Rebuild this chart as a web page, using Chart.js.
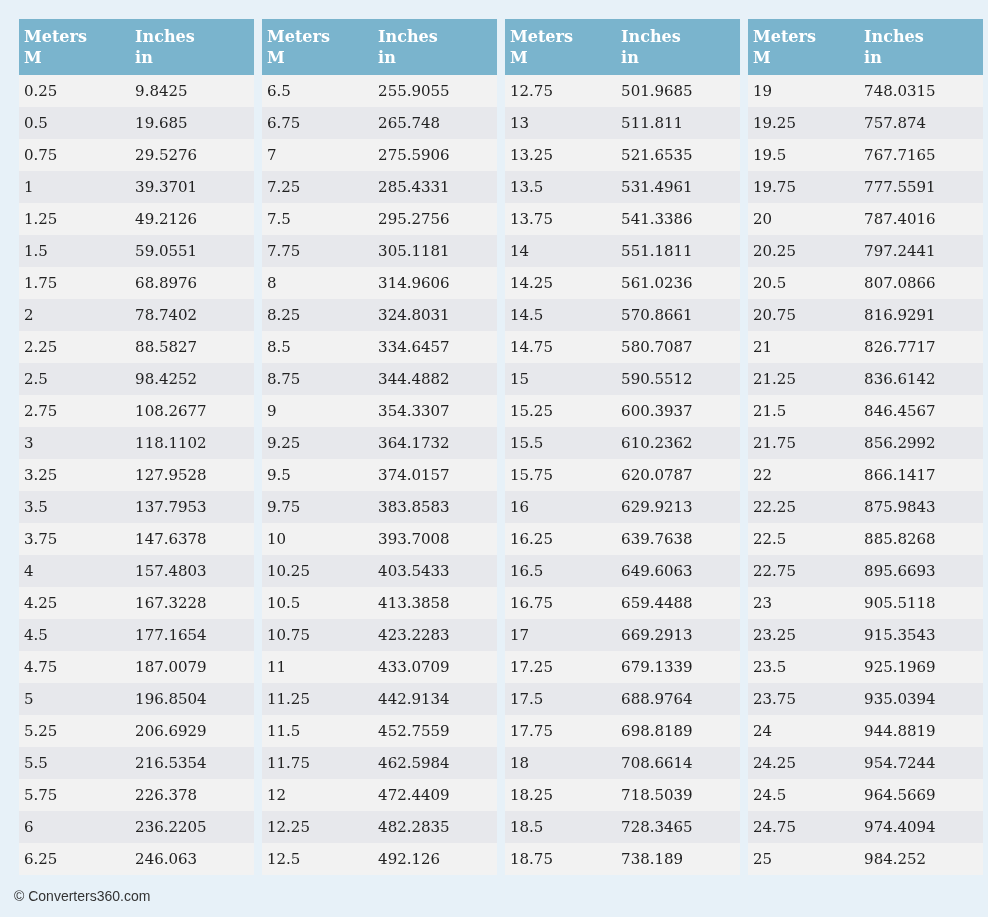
<!DOCTYPE html>
<html>
<head>
<meta charset="utf-8">
<script src="https://cdn.jsdelivr.net/npm/chart.js@4"></script>
<style>
  body { margin: 0; background: #e7f1f8; }
  #wrap { position: relative; width: 988px; height: 917px; }
  #footer { position: absolute; left: 14px; top: 888px; font: 14px "Liberation Sans", Arial, sans-serif; color: #333; }
</style>
</head>
<body>
<div id="wrap">
  <canvas id="tableCanvas"></canvas>
  <div id="footer">© Converters360.com</div>
</div>
<script>
// Column headers
const headerMeters = ["Meters", "M"];
const headerInches = ["Inches", "in"];

// Four column groups, meters and inches
const meters1 = ["0.25","0.5","0.75","1","1.25","1.5","1.75","2","2.25","2.5","2.75","3","3.25","3.5","3.75","4","4.25","4.5","4.75","5","5.25","5.5","5.75","6","6.25"];
const inches1 = ["9.8425","19.685","29.5276","39.3701","49.2126","59.0551","68.8976","78.7402","88.5827","98.4252","108.2677","118.1102","127.9528","137.7953","147.6378","157.4803","167.3228","177.1654","187.0079","196.8504","206.6929","216.5354","226.378","236.2205","246.063"];
const meters2 = ["6.5","6.75","7","7.25","7.5","7.75","8","8.25","8.5","8.75","9","9.25","9.5","9.75","10","10.25","10.5","10.75","11","11.25","11.5","11.75","12","12.25","12.5"];
const inches2 = ["255.9055","265.748","275.5906","285.4331","295.2756","305.1181","314.9606","324.8031","334.6457","344.4882","354.3307","364.1732","374.0157","383.8583","393.7008","403.5433","413.3858","423.2283","433.0709","442.9134","452.7559","462.5984","472.4409","482.2835","492.126"];
const meters3 = ["12.75","13","13.25","13.5","13.75","14","14.25","14.5","14.75","15","15.25","15.5","15.75","16","16.25","16.5","16.75","17","17.25","17.5","17.75","18","18.25","18.5","18.75"];
const inches3 = ["501.9685","511.811","521.6535","531.4961","541.3386","551.1811","561.0236","570.8661","580.7087","590.5512","600.3937","610.2362","620.0787","629.9213","639.7638","649.6063","659.4488","669.2913","679.1339","688.9764","698.8189","708.6614","718.5039","728.3465","738.189"];
const meters4 = ["19","19.25","19.5","19.75","20","20.25","20.5","20.75","21","21.25","21.5","21.75","22","22.25","22.5","22.75","23","23.25","23.5","23.75","24","24.25","24.5","24.75","25"];
const inches4 = ["748.0315","757.874","767.7165","777.5591","787.4016","797.2441","807.0866","816.9291","826.7717","836.6142","846.4567","856.2992","866.1417","875.9843","885.8268","895.6693","905.5118","915.3543","925.1969","935.0394","944.8819","954.7244","964.5669","974.4094","984.252"];

const groups = [[meters1, inches1], [meters2, inches2], [meters3, inches3], [meters4, inches4]];

// Layout in scale units
const GAP = 0.034;        // gap between groups
const HEADER_H = 1.75;    // header height in rows
const COL2 = 0.494;       // inches column offset inside group

const cellData = [];
groups.forEach((g, gi) => g[0].forEach((m, ri) => cellData.push({ x: gi * (1 + GAP) + 0.5, y: ri + 0.5 })));

// Draws the cells using the chart's scales
const tablePlugin = {
  id: "tablePlugin",
  beforeDatasetsDraw(chart) {
    const { ctx, scales: { x, y } } = chart;
    ctx.save();
    groups.forEach((g, gi) => {
      const gx = gi * (1 + GAP);
      const left = x.getPixelForValue(gx);
      const right = x.getPixelForValue(gx + 1);
      const colX = x.getPixelForValue(gx + COL2);
      // header
      const hTop = y.getPixelForValue(-HEADER_H);
      const hBot = y.getPixelForValue(0);
      ctx.fillStyle = "#7ab4cd";
      ctx.fillRect(left, hTop, right - left, hBot - hTop);
      ctx.fillStyle = "#ffffff";
      ctx.font = "bold 16px 'DejaVu Serif'";
      ctx.textBaseline = "middle";
      ctx.textAlign = "left";
      [0, 1].forEach(i => {
        const ty = y.getPixelForValue(-HEADER_H + 0.6 + i * 0.66);
        ctx.fillText(headerMeters[i], left + 5, ty);
        ctx.fillText(headerInches[i], colX, ty);
      });
      // rows
      g[0].forEach((m, ri) => {
        const top = y.getPixelForValue(ri);
        const bot = y.getPixelForValue(ri + 1);
        ctx.fillStyle = ri % 2 === 0 ? "#f2f2f2" : "#e7e8ec";
        ctx.fillRect(left, top, right - left, bot - top);
        ctx.fillStyle = "#222";
        ctx.font = "15px 'DejaVu Serif'";
        const ty = (top + bot) / 2 + 1;
        ctx.fillText(m, left + 5, ty);
        ctx.fillText(g[1][ri], colX, ty);
      });
    });
    ctx.restore();
  }
};

new Chart(document.getElementById("tableCanvas"), {
  type: "scatter",
  data: { datasets: [{ data: cellData, pointRadius: 0, pointHoverRadius: 0 }] },
  options: {
    responsive: true,
    maintainAspectRatio: false,
    animation: false,
    layout: { padding: { left: 19, right: 5, top: 19, bottom: 42 } },
    plugins: { legend: { display: false }, tooltip: { enabled: false } },
    scales: {
      x: { type: "linear", display: false, min: 0, max: 4 + 3 * GAP },
      y: { type: "linear", display: false, min: -HEADER_H, max: 25, reverse: true }
    }
  },
  plugins: [tablePlugin]
});
</script>
</body>
</html>
